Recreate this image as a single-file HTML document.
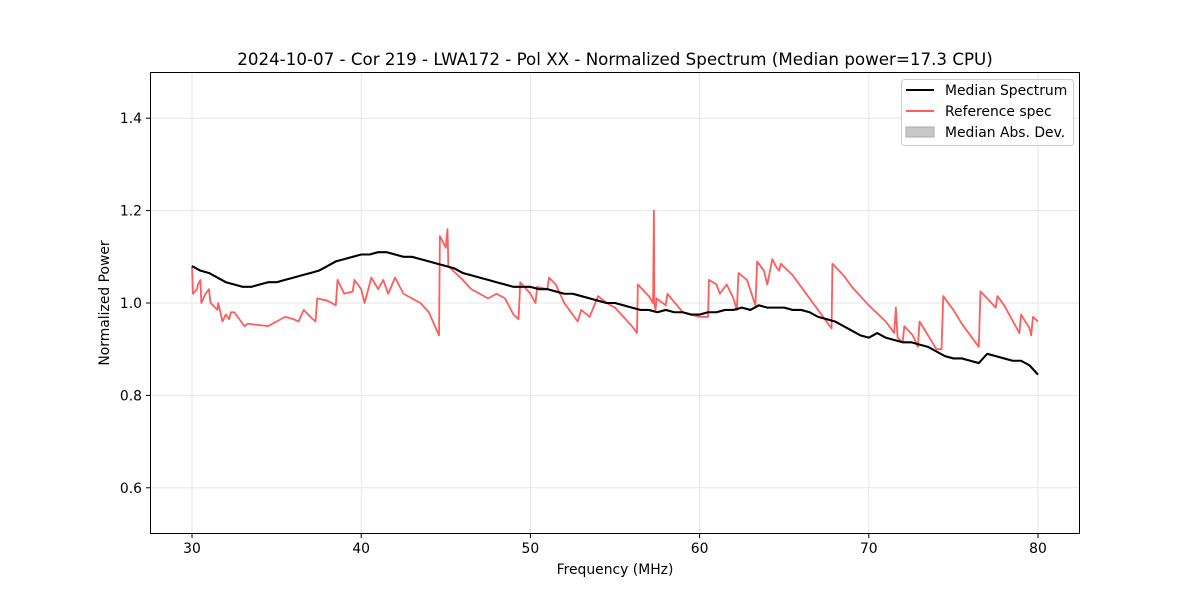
<!DOCTYPE html>
<html><head><meta charset="utf-8"><style>
html,body{margin:0;padding:0;background:#fff;}
svg text{font-family:"DejaVu Sans","Liberation Sans",sans-serif;}
</style></head><body>
<svg id="chart" width="1200" height="600" xmlns="http://www.w3.org/2000/svg">
<rect x="0" y="0" width="1200" height="600" fill="#fff"/>
<text x="615" y="65" font-size="16.7" text-anchor="middle">2024-10-07 - Cor 219 - LWA172 - Pol XX - Normalized Spectrum (Median power=17.3 CPU)</text>
<g id="grid"></g>
<g id="series"></g>
<rect x="150.5" y="72.5" width="929" height="461" fill="none" stroke="#000" stroke-width="1"/>
<g id="ticks"></g>
<text x="615" y="574" font-size="13.9" text-anchor="middle">Frequency (MHz)</text>
<text x="109" y="303" font-size="13.9" text-anchor="middle" transform="rotate(-90 109 303)">Normalized Power</text>
<g>
<rect x="901.5" y="79.5" width="172" height="66" rx="3" fill="#fff" fill-opacity="0.8" stroke="#ccc"/>
<g><line x1="906" y1="90" x2="934" y2="90" stroke="#000" stroke-width="2"/><text x="945" y="95" font-size="13.9">Median Spectrum</text></g>
<g><line x1="906" y1="111" x2="934" y2="111" stroke="#ff5c5c" stroke-width="2"/><text x="945" y="116" font-size="13.9">Reference spec</text></g>
<g><rect x="906" y="127" width="28" height="10" fill="#c8c8c8" stroke="#aaa"/><text x="945" y="137" font-size="13.9">Median Abs. Dev.</text></g>
</g>
</svg>
<script>
const xTicks=[30,40,50,60,70,80];
const yTicks=[0.6,0.8,1.0,1.2,1.4];
const yTickLabels=["0.6","0.8","1.0","1.2","1.4"];
const medFreq=[30,30.5,31,31.5,32,32.5,33,33.5,34,34.5,35,35.5,36,36.5,37,37.5,38,38.5,39,39.5,40,40.5,41,41.5,42,42.5,43,43.5,44,44.5,45,45.5,46,46.5,47,47.5,48,48.5,49,49.5,50,50.5,51,51.5,52,52.5,53,53.5,54,54.5,55,55.5,56,56.5,57,57.5,58,58.5,59,59.5,60,60.5,61,61.5,62,62.5,63,63.5,64,64.5,65,65.5,66,66.5,67,67.5,68,68.5,69,69.5,70,70.5,71,71.5,72,72.5,73,73.5,74,74.5,75,75.5,76,76.5,77,77.5,78,78.5,79,79.5,80];
const medPower=[1.08,1.07,1.065,1.055,1.045,1.04,1.035,1.035,1.04,1.045,1.045,1.05,1.055,1.06,1.065,1.07,1.08,1.09,1.095,1.10,1.105,1.105,1.11,1.11,1.105,1.10,1.10,1.095,1.09,1.085,1.08,1.075,1.065,1.06,1.055,1.05,1.045,1.04,1.035,1.035,1.035,1.03,1.03,1.025,1.02,1.02,1.015,1.01,1.005,1.0,1.0,0.995,0.99,0.985,0.985,0.98,0.985,0.98,0.98,0.975,0.975,0.98,0.98,0.985,0.985,0.99,0.985,0.995,0.99,0.99,0.99,0.985,0.985,0.98,0.97,0.965,0.96,0.95,0.94,0.93,0.925,0.935,0.925,0.92,0.915,0.915,0.91,0.905,0.895,0.885,0.88,0.88,0.875,0.87,0.89,0.885,0.88,0.875,0.875,0.865,0.845];
const refFreq=[30,30.05,30.3,30.35,30.5,30.55,30.8,31,31.1,31.5,31.55,31.8,32,32.2,32.3,32.5,33.1,33.3,34.5,35,35.5,36,36.3,36.6,37,37.3,37.4,38,38.5,38.6,39,39.5,39.6,40,40.2,40.6,41,41.3,41.6,42,42.5,43.5,44,44.6,44.65,45,45.1,45.15,46,46.5,47,47.5,48,48.5,49,49.3,49.4,50,50.3,50.4,51,51.1,51.5,52,52.8,53,53.5,54,54.5,55,55.5,56,56.3,56.35,57,57.25,57.3,57.32,57.4,57.45,58,58.1,59,60,60.5,60.55,61,61.2,61.6,62,62.2,62.3,62.8,63.3,63.4,63.8,64,64.3,64.5,64.7,64.8,65.5,66,67,67.8,67.85,68.5,69,70,71,71.5,71.6,71.7,72,72.1,72.6,72.9,73,74,74.3,74.4,75,75.5,76,76.5,76.6,77,77.5,77.6,78,78.9,79,79.5,79.6,79.7,80];
const refPower=[1.08,1.02,1.03,1.04,1.05,1.0,1.02,1.03,1.0,0.985,1.0,0.96,0.975,0.965,0.98,0.98,0.95,0.955,0.95,0.96,0.97,0.965,0.96,0.985,0.97,0.96,1.01,1.005,0.995,1.05,1.02,1.025,1.05,1.03,1.0,1.055,1.03,1.05,1.02,1.055,1.02,1.0,0.98,0.93,1.145,1.12,1.16,1.08,1.05,1.03,1.02,1.01,1.02,1.01,0.975,0.965,1.045,1.02,1.0,1.035,1.03,1.055,1.04,1.0,0.96,0.985,0.97,1.015,1.0,0.99,0.97,0.95,0.935,1.04,1.015,1.0,1.2,1.0,0.985,1.01,0.995,1.02,0.98,0.97,0.97,1.05,1.04,1.02,1.04,1.01,0.985,1.065,1.05,0.995,1.09,1.07,1.04,1.095,1.08,1.07,1.085,1.06,1.035,0.985,0.945,1.085,1.06,1.035,0.995,0.96,0.935,0.99,0.925,0.915,0.95,0.93,0.905,0.96,0.9,0.9,1.015,0.985,0.955,0.93,0.905,1.025,1.01,0.99,1.015,0.995,0.935,0.975,0.945,0.93,0.97,0.96];
const NS="http://www.w3.org/2000/svg";
const X=v=>192+(v-30)*(1038-192)/50;
const Y=v=>534-(v-0.5)*462;
function mk(tag,attrs,parent){const e=document.createElementNS(NS,tag);for(const k in attrs)e.setAttribute(k,attrs[k]);parent.appendChild(e);return e;}
const grid=document.getElementById('grid'),ticks=document.getElementById('ticks'),series=document.getElementById('series');
xTicks.forEach(t=>{
 const g=mk('line',{x1:X(t),x2:X(t),y1:72,y2:534,stroke:'#e6e6e6','stroke-width':1},grid);
 
 
 mk('line',{x1:X(t),x2:X(t),y1:534,y2:538,stroke:'#000'},ticks);
 const tx=mk('text',{x:X(t),y:553,'font-size':13.9,'text-anchor':'middle'},ticks);tx.textContent=t;
 
 
});
yTicks.forEach((t,i)=>{
 const g=mk('line',{x1:150,x2:1080,y1:Y(t),y2:Y(t),stroke:'#e6e6e6','stroke-width':1},grid);
 
 
 mk('line',{x1:146,x2:150,y1:Y(t),y2:Y(t),stroke:'#000'},ticks);
 const tx=mk('text',{x:142,y:Y(t)+5,'font-size':13.9,'text-anchor':'end'},ticks);tx.textContent=yTickLabels[i];
 
 
});
const rp=mk('polyline',{points:refFreq.map((f,i)=>X(f)+','+Y(refPower[i])).join(' '),fill:'none',stroke:'#ff5c5c','stroke-width':1.8,'stroke-linejoin':'round'},series);


const mp=mk('polyline',{points:medFreq.map((f,i)=>X(f)+','+Y(medPower[i])).join(' '),fill:'none',stroke:'#000','stroke-width':2.1,'stroke-linejoin':'round'},series);


</script>
</body></html>
